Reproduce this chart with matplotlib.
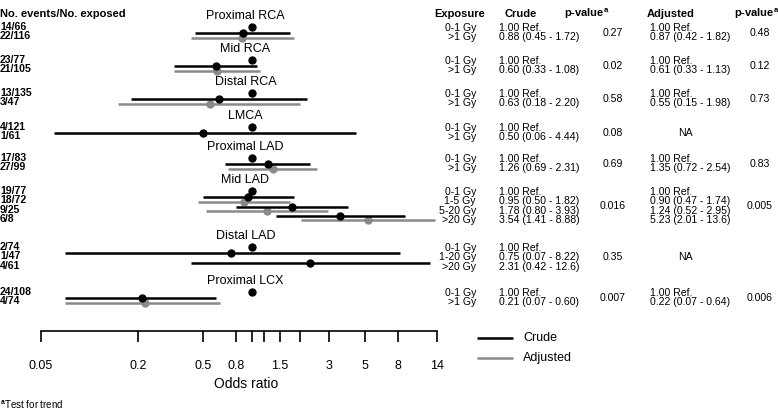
import matplotlib
matplotlib.use("Agg")
import matplotlib.pyplot as plt

plt.rcParams['font.family'] = ['Liberation Sans', 'DejaVu Sans']
plt.rcParams['mathtext.fontset'] = 'custom'
plt.rcParams['mathtext.rm'] = 'Liberation Sans'
plt.rcParams['mathtext.bf'] = 'Liberation Sans:bold'

# ---------------- data ----------------
groups = ["Proximal RCA", "Mid RCA", "Distal RCA", "LMCA",
          "Proximal LAD", "Mid LAD", "Distal LAD", "Proximal LCX"]
events = [["14/66", "22/116"], ["23/77", "21/105"], ["13/135", "3/47"],
          ["4/121", "1/61"], ["17/83", "27/99"],
          ["19/77", "18/72", "9/25", "6/8"], ["2/74", "1/47", "4/61"],
          ["24/108", "4/74"]]
exposures = [["0-1 Gy", ">1 Gy"], ["0-1 Gy", ">1 Gy"], ["0-1 Gy", ">1 Gy"],
             ["0-1 Gy", ">1 Gy"], ["0-1 Gy", ">1 Gy"],
             ["0-1 Gy", "1-5 Gy", "5-20 Gy", ">20 Gy"],
             ["0-1 Gy", "1-20 Gy", ">20 Gy"], ["0-1 Gy", ">1 Gy"]]
crude_or = [[0.88], [0.60], [0.63], [0.50], [1.26], [0.95, 1.78, 3.54], [0.75, 2.31], [0.21]]
crude_lo = [[0.45], [0.33], [0.18], [0.06], [0.69], [0.50, 0.80, 1.41], [0.07, 0.42], [0.07]]
crude_hi = [[1.72], [1.08], [2.20], [4.44], [2.31], [1.82, 3.93, 8.88], [8.22, 12.6], [0.60]]
adj_or = [[0.87], [0.61], [0.55], None, [1.35], [0.90, 1.24, 5.23], None, [0.22]]
adj_lo = [[0.42], [0.33], [0.15], None, [0.72], [0.47, 0.52, 2.01], None, [0.07]]
adj_hi = [[1.82], [1.13], [1.98], None, [2.54], [1.74, 2.95, 13.6], None, [0.64]]
p_crude = ["0.27", "0.02", "0.58", "0.08", "0.69", "0.016", "0.35", "0.007"]
p_adj = ["0.48", "0.12", "0.73", None, "0.83", "0.005", None, "0.006"]
ref_or = 1.0
xticks = [0.05, 0.2, 0.5, 0.8, 1, 1.2, 1.5, 2, 3, 5, 8, 14]
xticklabels = ["0.05", "0.2", "0.5", "0.8", "", "", "1.5", "", "3", "5", "8", "14"]

# ---------------- layout (pixels) ----------------
W, H = 778, 413
group_y0 = [28, 61, 94, 128, 159, 192, 248, 293]
row_step = 9.3
axis_y = 331
BLACK = "#000000"
GREY = "#8a8a8a"

fig = plt.figure(figsize=(W / 100, H / 100), dpi=100)

ax = fig.add_axes([41 / W, (H - axis_y) / H, (437 - 41) / W, axis_y / H])
ax.set_xscale('log')
ax.set_xlim(0.05, 14)
ax.set_ylim(axis_y, 0)
for s in ['left', 'right', 'top']:
    ax.spines[s].set_visible(False)
ax.spines['bottom'].set_linewidth(1.2)
ax.set_yticks([])
ax.set_xticks(xticks)
ax.set_xticklabels(xticklabels, fontsize=9)
ax.xaxis.set_minor_locator(matplotlib.ticker.NullLocator())
ax.tick_params(axis='x', length=8, width=1.2, pad=13, direction='out')
ax.patch.set_visible(False)

axt = fig.add_axes([0, 0, 1, 1])
axt.set_xlim(0, W)
axt.set_ylim(H, 0)
axt.axis('off')

def fmt(v):
    return f"{v:.1f}" if v >= 10 else f"{v:.2f}"

lw = 1.8
ms = 5
dsz = 7.6

for g in range(len(groups)):
    y0 = group_y0[g]
    n = len(events[g])
    rows = [y0 + i * row_step for i in range(n)]
    axt.text(245.5, y0 - 12, groups[g], fontsize=9, ha='center', va='center')
    # reference dot
    ax.plot([ref_or], [y0 - 1.5], 'o', color=BLACK, ms=ms, clip_on=False, zorder=4)
    for i in range(n):
        axt.text(0, rows[i] - 1, events[g][i], fontsize=dsz, fontweight='bold', ha='left', va='center')
        axt.text(476, rows[i], exposures[g][i], fontsize=dsz, ha='right', va='center')
    axt.text(499, rows[0], "1.00 Ref.", fontsize=dsz, ha='left', va='center')
    for i in range(1, n):
        o, lo, hi = crude_or[g][i - 1], crude_lo[g][i - 1], crude_hi[g][i - 1]
        axt.text(499, rows[i], f"{fmt(o)} ({fmt(lo)} - {fmt(hi)})", fontsize=dsz, ha='left', va='center')
        yc = rows[i] - 4
        ax.plot([lo, hi], [yc, yc], color=BLACK, lw=lw, solid_capstyle='butt', zorder=3)
        ax.plot([o], [yc], 'o', color=BLACK, ms=ms, zorder=4)
    pmid = (rows[0] + rows[-1]) / 2
    axt.text(613, pmid, p_crude[g], fontsize=dsz, ha='center', va='center')
    if adj_or[g] is None:
        axt.text(685, pmid, "NA", fontsize=dsz, ha='center', va='center')
    else:
        axt.text(650, rows[0], "1.00 Ref.", fontsize=dsz, ha='left', va='center')
        for i in range(1, n):
            o, lo, hi = adj_or[g][i - 1], adj_lo[g][i - 1], adj_hi[g][i - 1]
            axt.text(650, rows[i], f"{fmt(o)} ({fmt(lo)} - {fmt(hi)})", fontsize=dsz, ha='left', va='center')
            ya = rows[i] + 0.5
            ax.plot([lo, hi], [ya, ya], color=GREY, lw=lw, solid_capstyle='butt', zorder=2)
            ax.plot([o], [ya], 'o', color=GREY, ms=ms, zorder=2)
        axt.text(760, pmid, p_adj[g], fontsize=dsz, ha='center', va='center')

# headers
hy = 14
hs = 8
axt.text(0, hy, "No. events/No. exposed", fontsize=hs, fontweight='bold', ha='left', va='center')
axt.text(459.5, hy, "Exposure", fontsize=hs, fontweight='bold', ha='center', va='center')
axt.text(505, hy, "Crude", fontsize=hs, fontweight='bold', ha='left', va='center')
axt.text(564, hy, r"p-value$^{\mathbf{a}}$", fontsize=hs, fontweight='bold', ha='left', va='center')
axt.text(647, hy, "Adjusted", fontsize=hs, fontweight='bold', ha='left', va='center')
axt.text(734, hy, r"p-value$^{\mathbf{a}}$", fontsize=hs, fontweight='bold', ha='left', va='center')

# axis label
axt.text(246.5, 384, "Odds ratio", fontsize=10, ha='center', va='center')

# legend
axt.plot([477, 513], [338, 338], color=BLACK, lw=lw, solid_capstyle='butt')
axt.plot([477, 513], [358, 358], color=GREY, lw=lw, solid_capstyle='butt')
axt.text(523, 338, "Crude", fontsize=9, ha='left', va='center')
axt.text(523, 358, "Adjusted", fontsize=9, ha='left', va='center')

# footnote
axt.text(0, 405, r"$^{\mathbf{a}}$Test for trend", fontsize=7, ha='left', va='center')

fig.savefig("out.png", dpi=100)
